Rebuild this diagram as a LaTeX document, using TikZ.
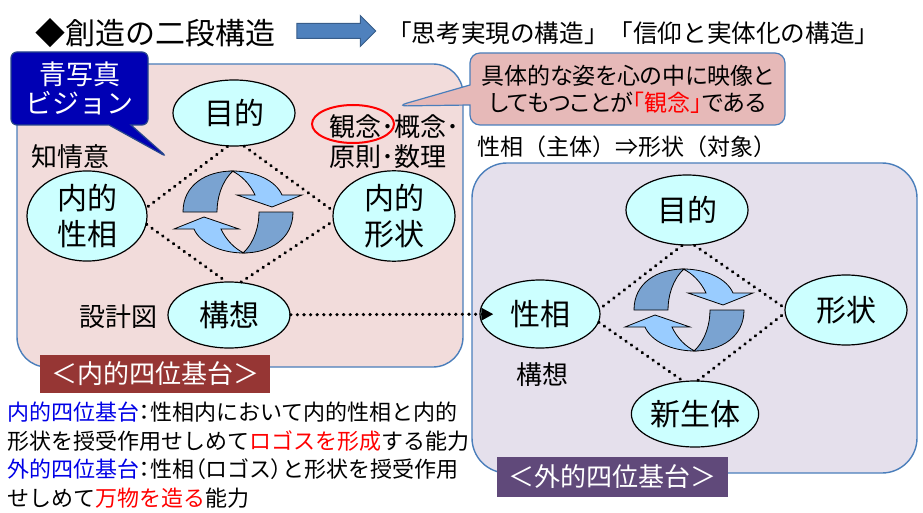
\documentclass[tikz,border=0pt]{standalone}
\usepackage{fontspec}
\setmainfont{Noto Sans CJK JP}
\newfontfamily\pfont{Noto Sans CJK JP}[RawFeature=+palt]
\usetikzlibrary{shapes.geometric, shapes.callouts, shapes.arrows, arrows.meta}

\definecolor{pinkbox}{RGB}{242,220,219}
\definecolor{lilacbox}{RGB}{229,224,236}
\definecolor{boxline}{RGB}{74,126,187}
\definecolor{cyanfill}{RGB}{204,255,255}
\definecolor{arrowblue}{RGB}{79,129,189}
\definecolor{arrowline}{RGB}{56,93,138}
\definecolor{cycdark}{RGB}{122,163,209}
\definecolor{cyclight}{RGB}{153,204,255}
\definecolor{visionblue}{RGB}{0,0,180}
\definecolor{visionline}{RGB}{40,70,140}
\definecolor{calloutpink}{RGB}{230,185,184}
\definecolor{innerred}{RGB}{150,54,52}
\definecolor{outerpurple}{RGB}{96,73,122}
\definecolor{termblue}{RGB}{0,0,230}

\tikzset{
    ell/.style={ellipse, draw=black, line width=1.2pt, fill=cyanfill, inner sep=0pt, align=center, font=\fontsize{30}{36}\selectfont},
    dotline/.style={line width=3.2pt, dash pattern=on 0.4pt off 6.2pt, line cap=round},
    lbl/.style={inner sep=0pt, font=\fontsize{26}{30}\selectfont},
    tag/.style={fill=#1, text=white, inner sep=0pt, font=\fontsize{26}{30}\selectfont},
    cyc/.pic={
        \filldraw[fill=cyclight, line width=0.8pt] (-6,-41) .. controls (18,-41) and (38,-31) .. (44,-17) -- (64,-17) -- (34,-5) -- (-1,-17) -- (17,-17) .. controls (12,-28) and (3,-37) .. (-6,-41) -- cycle;
        \filldraw[fill=cycdark, line width=0.8pt] (-55,0) .. controls (-55,-27) and (-32,-41) .. (-5,-41) .. controls (-17,-30) and (-21,-13) .. (-21,0) -- cycle;
    }
}

\begin{document}
\begin{tikzpicture}[x=1pt, y=-1pt]
    \useasboundingbox (0,0) rectangle (923,513);

    \node[anchor=west, inner sep=0pt, font=\fontsize{30}{36}\selectfont] (title) at (35,33) {◆創造の二段構造};
    \node[single arrow, fill=arrowblue, draw=arrowline, line width=1pt, inner sep=7pt, minimum height=79pt, single arrow head extend=8pt] (titlearrow) at (332.5,31) {};
    \node[anchor=west, inner sep=0pt, font=\fontsize{24.6}{30}\selectfont] (subtitle) at (387,33) {「思考実現の構造」「信仰と実体化の構造」};

    \draw[draw=boxline, line width=1.4pt, fill=pinkbox, rounded corners=30pt] (17,64) rectangle (463,367);
    \draw[draw=boxline, line width=1.4pt, fill=lilacbox, rounded corners=35pt] (472,163) rectangle (917,473);

    \node[ell, minimum width=122pt, minimum height=66pt] (mokL) at (234,113) {目的};
    \node[ell, minimum width=120pt, minimum height=80pt] (naiSei) at (87,216) {内的\\性相};
    \node[ell, minimum width=122pt, minimum height=80pt] (naiKei) at (394,216) {内的\\形状};
    \node[ell, minimum width=122pt, minimum height=66pt] (kousouL) at (229,315) {構想};

    \draw[dotline] (mokL.259) -- (naiSei.8);
    \draw[dotline] (mokL.287) -- (naiKei.175);
    \draw[dotline] (naiSei.352) -- (kousouL.95);
    \draw[dotline] (kousouL.70) -- (naiKei.185);
    \pic at (238,212) {cyc};
    \pic[rotate=180] at (238,212) {cyc};

    \node[lbl] (chijoui) at (70,157) {知情意};
    \node[lbl] (sekkei) at (118,317) {設計図};
    \node[lbl, anchor=west, align=left, font=\fontsize{26}{30}\selectfont] (kannen) at (329,142) {観念･概念･\\原則･数理};
    \node[ellipse, draw=red, line width=2pt, minimum width=82pt, minimum height=38pt] (kannenRing) at (353,124) {};

    \node[ell, minimum width=122pt, minimum height=70pt] (mokR) at (687,210) {目的};
    \node[ell, minimum width=120pt, minimum height=68pt] (seisouR) at (540,314) {性相};
    \node[ell, minimum width=122pt, minimum height=70pt] (keijouR) at (846,310) {形状};
    \node[ell, minimum width=120pt, minimum height=66pt] (shinsei) at (695,414) {新生体};

    \draw[dotline] (mokR.262) -- (seisouR.5);
    \draw[dotline] (mokR.282) -- (keijouR.178);
    \draw[dotline] (seisouR.352) -- (shinsei.110);
    \draw[dotline] (shinsei.85) -- (keijouR.183);
    \pic at (689,310) {cyc};
    \pic[rotate=180] at (689,310) {cyc};

    \draw[dotline, -{Triangle[length=12pt, width=12pt]}, shorten >=-14pt] (kousouL) -- (seisouR);

    \node[lbl] (kousouR) at (542,375) {構想};
    \node[inner sep=0pt, font=\fontsize{23}{30}\selectfont] (shutai) at (627,147) {性相（主体）⇒形状（対象）};

    \node[rectangle callout, rounded corners=6pt, draw=visionline, line width=1.2pt, fill=visionblue, text=white, minimum width=137pt, minimum height=73pt, callout absolute pointer={(167,157)}, callout pointer width=22pt, align=center, inner sep=0pt, font=\fontsize{27}{29}\selectfont] (vision) at (79.5,88.5) {青写真\\ビジョン};
    \node[rectangle callout, rounded corners=10pt, draw=boxline, line width=1.2pt, fill=calloutpink, minimum width=315pt, minimum height=72pt, callout absolute pointer={(397,106)}, callout pointer width=20pt, align=center, inner sep=0pt, font=\pfont\fontsize{23}{27}\selectfont] (kannenNote) at (627.5,89) {具体的な姿を心の中に映像と\\してもつことが{\color{red}「観念」}である};

    \node[tag=innerred, minimum width=230pt, minimum height=38pt] (innerTag) at (155,374) {＜内的四位基台＞};
    \node[tag=outerpurple, minimum width=231pt, minimum height=40pt] (outerTag) at (612.5,477) {＜外的四位基台＞};

    \node[anchor=west, align=left, inner sep=0pt, font=\fontsize{22}{28.5}\selectfont] (notes) at (7,455) {{\color{termblue}内的四位基台}{\pfont：}性相内において内的性相と内的\\形状を授受作用せしめて{\color{red}ロゴスを形成}する能力\\{\color{termblue}外的四位基台}{\pfont：}性相{\pfont（}ロゴス{\pfont）}と形状を授受作用\\せしめて{\color{red}万物を造る}能力};
\end{tikzpicture}
\end{document}
